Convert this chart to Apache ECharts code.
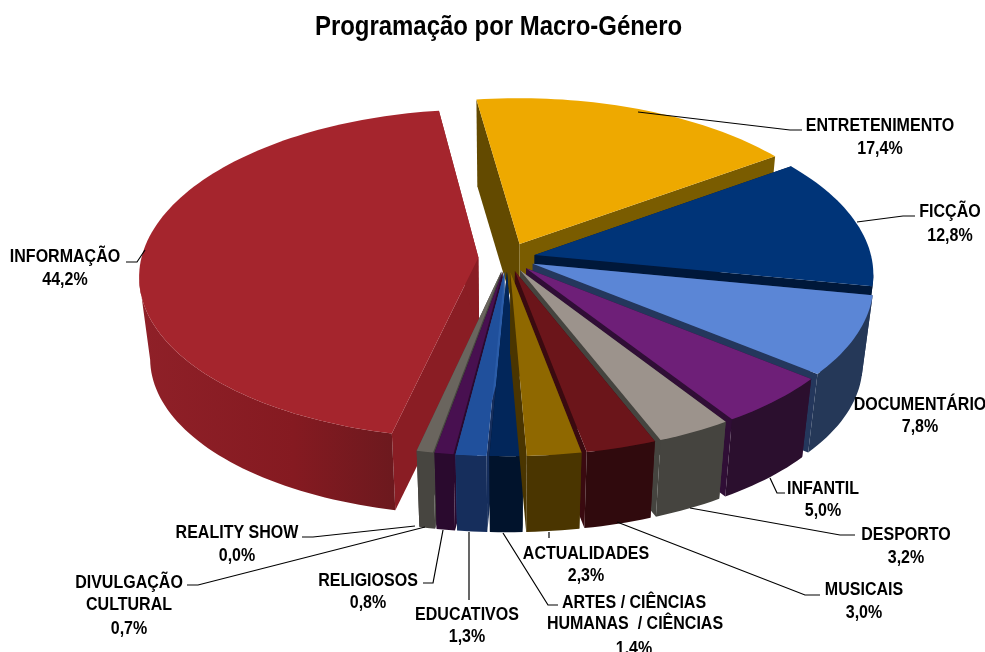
<!DOCTYPE html>
<html>
<head>
<meta charset="utf-8">
<style>
  html, body { margin: 0; padding: 0; background: #fff; }
  #main { width: 985px; height: 652px; }
</style>
<script src="https://cdn.jsdelivr.net/npm/echarts@6/dist/echarts.min.js"></script>
</head>
<body>
<div id="main"></div>
<script>
  // clockwise from Entretenimento, same order as the original sheet
  var names = ['ENTRETENIMENTO', 'FICÇÃO', 'DOCUMENTÁRIO', 'INFANTIL', 'DESPORTO', 'MUSICAIS', 'ACTUALIDADES',
    'ARTES / CIÊNCIAS HUMANAS / CIÊNCIAS', 'EDUCATIVOS', 'RELIGIOSOS', 'DIVULGAÇÃO CULTURAL', 'REALITY SHOW', 'INFORMAÇÃO'];
  var values = [17.4, 12.8, 7.8, 5.0, 3.2, 3.0, 2.3, 1.4, 1.3, 0.8, 0.7, 0.0, 44.2];
  var explode = [0.095, 0.084, 0.084, 0.084, 0.084, 0.084, 0.084, 0.084, 0.084, 0.084, 0.084, 0.084, 0.085];

  var topColors = ['#EEA900', '#003478', '#5B86D6', '#6E1F78', '#9C938C', '#6B151A', '#8F6800', '#02265A', '#20509C', '#481050', '#6A655E', '#6A655E', '#A5252D'];
  var wallColors = ['#7A5C00', '#00183A', '#253858', '#2B0F2E', '#45443F', '#300A0D', '#4A3500', '#01132C', '#162E5C', '#2A0A2E', '#474540', '#474540', '#8A1D24'];
  var startFaceColors = ['#634A00', '#00183A', '#24375C', '#300E36', '#45443F', '#3A0A10', '#4A3500', '#01132C', '#162E5C', '#2A0A2E', '#474540', '#474540', '#8A1D24'];
  var endFaceColors = ['#7A5C00', '#00183A', '#24375C', '#300E36', '#45443F', '#3A0A10', '#4A3500', '#01132C', '#2A5CA8', '#2A0A2E', '#474540', '#474540', '#8A1D24'];

  // painter order: outer slices first, the ones nearest the viewer last
  var drawOrder = [12, 0, 1, 2, 3, 4, 5, 10, 9, 8, 7, 6];

  // pie projection
  var CX = 507, CY = 258, RX = 337, RY = 163, KX = 0.11, KY = 0.1, DEPTH = 82, SHRINK = 0.97;
  var START_ANGLE = -8;

  var total = values.reduce(function (a, b) { return a + b; }, 0);
  var starts = [];
  values.reduce(function (acc, v, i) {
    starts[i] = acc;
    return acc + v / total * 360;
  }, START_ANGLE);

  function rad(d) { return d * Math.PI / 180; }

  function project(u, v, low) {
    var x = RX * u / (1 - KX * v);
    var y = RY * v / (1 - KY * v);
    if (low) {
      x *= SHRINK;
      y = y * SHRINK + DEPTH;
    }
    return [CX + x, CY + y];
  }

  function sliceShape(i) {
    var a0 = starts[i], a1 = a0 + values[i] / total * 360;
    var mid = rad((a0 + a1) / 2);
    var ou = Math.sin(mid) * explode[i], ov = -Math.cos(mid) * explode[i];
    function rim(a, low) {
      return project(ou + Math.sin(rad(a)), ov - Math.cos(rad(a)), low);
    }
    var top = [], low = [];
    var steps = Math.max(2, Math.ceil((a1 - a0) / 1.5));
    for (var s = 0; s <= steps; s++) {
      var a = a0 + (a1 - a0) * s / steps;
      top.push(rim(a, false));
      low.push(rim(a, true));
    }
    return {
      apex: project(ou, ov, false),
      apexLow: project(ou, ov, true),
      top: top,
      low: low
    };
  }

  function poly(points, fill) {
    return { type: 'polygon', shape: { points: points }, style: { fill: fill, stroke: null } };
  }

  function renderSlice(params, api) {
    var i = api.value(0);
    var s = sliceShape(i);
    var n = s.top.length - 1;
    var children = [
      poly([s.apex, s.top[0], s.low[0], s.apexLow], startFaceColors[i]),
      poly([s.apex, s.top[n], s.low[n], s.apexLow], endFaceColors[i])
    ];
    // outer wall: only the run facing the viewer, where the rim moves leftwards
    var first = -1, last = -1;
    for (var k = 0; k < n; k++) {
      if (s.top[k + 1][0] < s.top[k][0]) {
        if (first < 0) first = k;
        last = k + 1;
      }
    }
    if (first >= 0) {
      var wallFill = wallColors[i];
      if (i === 12) {
        wallFill = new echarts.graphic.LinearGradient(0, 0, 1, 0, [
          { offset: 0, color: '#8F2028' },
          { offset: 0.6, color: '#851A21' },
          { offset: 1, color: '#6C191E' }
        ]);
      }
      var topRun = s.top.slice(first, last + 1);
      var lowRun = s.low.slice(first, last + 1).reverse();
      children.push(poly(topRun.concat(lowRun), wallFill));
    }
    children.push(poly([s.apex].concat(s.top), topColors[i]));
    return { type: 'group', children: children };
  }

  // label layout: text lines [text, centre x, baseline y] and leader line points
  var labelLayout = [
    { lines: [['ENTRETENIMENTO', 880, 135], ['17,4%', 880, 158]], leader: [[638, 112], [790, 130], [802, 130]] },
    { lines: [['FICÇÃO', 950, 221], ['12,8%', 950, 245]], leader: [[857, 222], [903, 216], [915, 216]] },
    { lines: [['DOCUMENTÁRIO', 920, 414], ['7,8%', 920, 436]], leader: null },
    { lines: [['INFANTIL', 823, 498], ['5,0%', 823, 520]], leader: [[770, 478], [777, 493], [785, 493]] },
    { lines: [['DESPORTO', 906, 544], ['3,2%', 906, 567]], leader: [[690, 508], [840, 535], [855, 535]] },
    { lines: [['MUSICAIS', 864, 599], ['3,0%', 864, 622]], leader: [[617, 522], [805, 595], [820, 595]] },
    { lines: [['ACTUALIDADES', 586, 563], ['2,3%', 586, 585]], leader: [[549, 532], [549, 538]] },
    { lines: [['ARTES / CIÊNCIAS', 634, 612], ['HUMANAS  / CIÊNCIAS', 635, 633], ['1,4%', 634, 658]], leader: [[503, 533], [548, 605], [558, 605]] },
    { lines: [['EDUCATIVOS', 467, 624], ['1,3%', 467, 646]], leader: [[469, 532], [469, 600]] },
    { lines: [['RELIGIOSOS', 368, 590], ['0,8%', 368, 612]], leader: [[443, 530], [433, 583], [423, 583]] },
    { lines: [['DIVULGAÇÃO', 129, 592], ['CULTURAL', 129, 614], ['0,7%', 129, 638]], leader: [[425, 527], [198, 585], [187, 585]] },
    { lines: [['REALITY SHOW', 237, 542], ['0,0%', 237, 565]], leader: [[415, 526], [313, 537], [302, 537]] },
    { lines: [['INFORMAÇÃO', 65, 266], ['44,2%', 65, 289]], leader: [[145, 250], [137, 262], [126, 262]] }
  ];

  // condensed look of the original font, no narrow face installed
  var FONT = '"Liberation Sans", sans-serif';
  var labelGraphics = [{
    type: 'text',
    z: 11,
    x: 498.5,
    y: 41,
    scaleX: 0.855,
    style: {
      text: 'Programação por Macro-Género',
      fill: '#000',
      align: 'center',
      verticalAlign: 'bottom',
      font: 'bold 28px ' + FONT
    }
  }];
  labelLayout.forEach(function (item) {
    if (item.leader) {
      labelGraphics.push({
        type: 'polyline',
        z: 10,
        shape: { points: item.leader },
        style: { stroke: '#000', lineWidth: 1.2, fill: null }
      });
    }
    item.lines.forEach(function (l) {
      labelGraphics.push({
        type: 'text',
        z: 11,
        x: l[1],
        y: l[2],
        scaleX: 0.89,
        style: {
          text: l[0],
          fill: '#000',
          align: 'center',
          verticalAlign: 'bottom',
          font: 'bold 18px ' + FONT
        }
      });
    });
  });

  var chart = echarts.init(document.getElementById('main'));
  chart.setOption({
    animation: false,
    graphic: labelGraphics,
    series: [{
      type: 'custom',
      coordinateSystem: 'none',
      clip: false,
      data: drawOrder.map(function (i) { return { name: names[i], value: [i, values[i]] }; }),
      renderItem: renderSlice
    }]
  });
</script>
</body>
</html>
